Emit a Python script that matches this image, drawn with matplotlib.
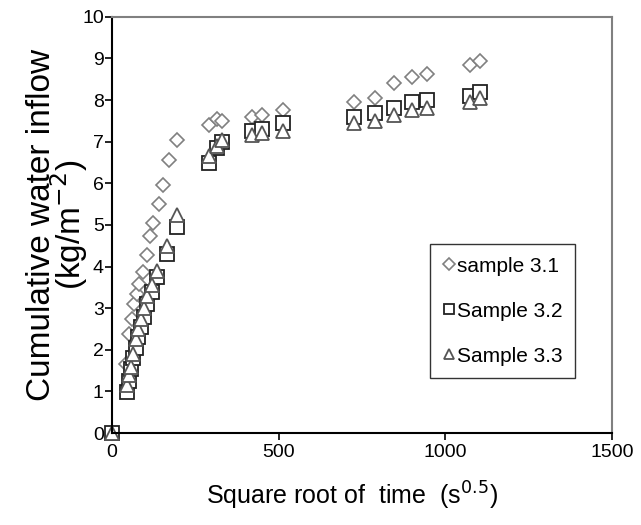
import numpy as np
import matplotlib.pyplot as plt

plt.rcParams['font.family'] = ['Liberation Sans', 'DejaVu Sans']

# sample 3.1 (diamonds)
x1 = [0, 41, 49, 59, 64, 73, 80, 91, 104, 112, 123, 139, 153, 170, 195,
      290, 315, 330, 420, 450, 513, 725, 790, 845, 900, 945, 1075, 1105]
y1 = [0, 1.65, 2.38, 2.75, 3.09, 3.33, 3.59, 3.86, 4.28, 4.74, 5.04, 5.5, 5.97, 6.55, 7.05,
      7.4, 7.55, 7.5, 7.6, 7.65, 7.75, 7.95, 8.05, 8.4, 8.55, 8.62, 8.85, 8.95]

# Sample 3.2 (squares)
x2 = [0, 45, 50, 55, 62, 70, 77, 85, 95, 105, 120, 135, 165, 195,
      290, 315, 330, 420, 450, 513, 725, 790, 845, 900, 945, 1075, 1105]
y2 = [0, 0.98, 1.25, 1.55, 1.8, 2.05, 2.3, 2.55, 2.8, 3.1, 3.4, 3.75, 4.3, 4.95,
      6.5, 6.85, 7.0, 7.25, 7.3, 7.45, 7.6, 7.7, 7.8, 7.95, 8.0, 8.1, 8.2]

# Sample 3.3 (triangles)
x3 = [0, 45, 50, 55, 62, 70, 77, 85, 95, 105, 120, 135, 165, 195,
      290, 315, 330, 420, 450, 513, 725, 790, 845, 900, 945, 1075, 1105]
y3 = [0, 1.15, 1.4, 1.6, 1.9, 2.25, 2.5, 2.75, 3.0, 3.3, 3.55, 3.9, 4.5, 5.25,
      6.65, 6.9, 7.05, 7.15, 7.2, 7.25, 7.45, 7.5, 7.65, 7.75, 7.8, 7.95, 8.05]

fig = plt.figure(figsize=(6.41, 5.25), dpi=100)
ax = fig.add_axes([0.175, 0.175, 0.78, 0.793])

ax.plot(x1, y1, 'D', ms=7.5, mfc='white', mec='#808080', mew=1.2, ls='none',
        label='sample 3.1', clip_on=False)
ax.plot(x2, y2, 's', ms=10, mfc='white', mec='#222222', mew=1.3, ls='none',
        label='Sample 3.2', clip_on=False)
ax.plot(x3, y3, '^', ms=10, mfc='white', mec='#555555', mew=1.3, ls='none',
        label='Sample 3.3', clip_on=False)

ax.set_xlim(0, 1500)
ax.set_ylim(0, 10)
ax.set_xticks([0, 500, 1000, 1500])
ax.set_yticks(np.arange(0, 11, 1))
ax.tick_params(direction='out', length=5, width=1.2, labelsize=14, colors='black')
ax.tick_params(axis='x', pad=3)
ax.tick_params(axis='y', pad=1)
for s in ['top', 'right']:
    ax.spines[s].set_color('#808080')
    ax.spines[s].set_linewidth(1.5)
for s in ['left', 'bottom']:
    ax.spines[s].set_color('black')
    ax.spines[s].set_linewidth(1.5)

ax.set_xlabel('Square root of  time  (s$^{0.5}$)', fontsize=18)
ax.xaxis.set_label_coords(0.48, -0.112)
ax.set_ylabel('Cumulative water inflow\n(kg/m$^{-2}$)', fontsize=24, linespacing=0.72)
ax.yaxis.set_label_coords(-0.045, 0.5)

leg = ax.legend(loc='lower left', bbox_to_anchor=(0.636, 0.132), fontsize=15,
                frameon=True, fancybox=False, edgecolor='black', markerscale=0.75,
                handlelength=0.6, handletextpad=0.1, labelspacing=1.25,
                borderpad=0.6, borderaxespad=0)
leg.get_frame().set_linewidth(1.0)

fig.savefig('out.png', dpi=100)
